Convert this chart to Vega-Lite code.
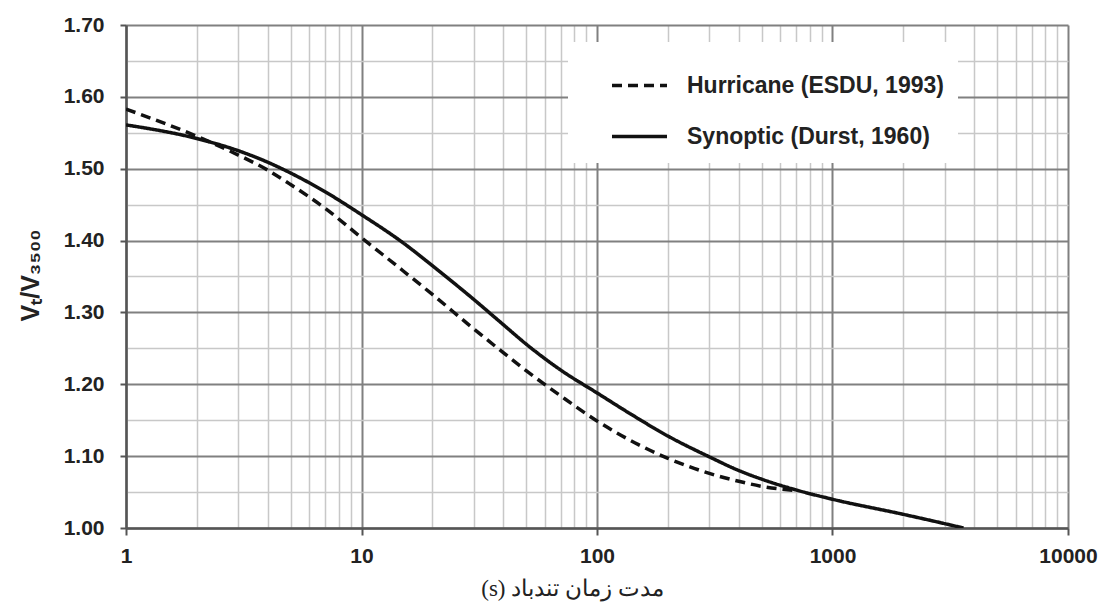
{
  "$schema": "https://vega.github.io/schema/vega-lite/v6.json",
  "width": 942,
  "height": 503,
  "autosize": "none",
  "padding": {"left": 126, "top": 25, "right": 38, "bottom": 76},
  "background": "white",
  "config": {"view": {"stroke": null}},
  "data": {
    "values": [
      {"series": "Hurricane (ESDU, 1993)", "t": 1, "v": 1.583},
      {"series": "Hurricane (ESDU, 1993)", "t": 2, "v": 1.545},
      {"series": "Hurricane (ESDU, 1993)", "t": 3, "v": 1.519},
      {"series": "Hurricane (ESDU, 1993)", "t": 4, "v": 1.498},
      {"series": "Hurricane (ESDU, 1993)", "t": 5, "v": 1.478},
      {"series": "Hurricane (ESDU, 1993)", "t": 7, "v": 1.445},
      {"series": "Hurricane (ESDU, 1993)", "t": 10, "v": 1.404},
      {"series": "Hurricane (ESDU, 1993)", "t": 15, "v": 1.358},
      {"series": "Hurricane (ESDU, 1993)", "t": 20, "v": 1.325},
      {"series": "Hurricane (ESDU, 1993)", "t": 30, "v": 1.277},
      {"series": "Hurricane (ESDU, 1993)", "t": 40, "v": 1.244},
      {"series": "Hurricane (ESDU, 1993)", "t": 50, "v": 1.219},
      {"series": "Hurricane (ESDU, 1993)", "t": 70, "v": 1.184},
      {"series": "Hurricane (ESDU, 1993)", "t": 100, "v": 1.149},
      {"series": "Hurricane (ESDU, 1993)", "t": 150, "v": 1.116},
      {"series": "Hurricane (ESDU, 1993)", "t": 200, "v": 1.097},
      {"series": "Hurricane (ESDU, 1993)", "t": 300, "v": 1.076},
      {"series": "Hurricane (ESDU, 1993)", "t": 400, "v": 1.065},
      {"series": "Hurricane (ESDU, 1993)", "t": 500, "v": 1.058},
      {"series": "Hurricane (ESDU, 1993)", "t": 700, "v": 1.052},
      {"series": "Synoptic (Durst, 1960)", "t": 1, "v": 1.561},
      {"series": "Synoptic (Durst, 1960)", "t": 2, "v": 1.542},
      {"series": "Synoptic (Durst, 1960)", "t": 3, "v": 1.525},
      {"series": "Synoptic (Durst, 1960)", "t": 4, "v": 1.509},
      {"series": "Synoptic (Durst, 1960)", "t": 5, "v": 1.494},
      {"series": "Synoptic (Durst, 1960)", "t": 7, "v": 1.468},
      {"series": "Synoptic (Durst, 1960)", "t": 10, "v": 1.436},
      {"series": "Synoptic (Durst, 1960)", "t": 15, "v": 1.397},
      {"series": "Synoptic (Durst, 1960)", "t": 20, "v": 1.365},
      {"series": "Synoptic (Durst, 1960)", "t": 30, "v": 1.318},
      {"series": "Synoptic (Durst, 1960)", "t": 40, "v": 1.283},
      {"series": "Synoptic (Durst, 1960)", "t": 50, "v": 1.256},
      {"series": "Synoptic (Durst, 1960)", "t": 70, "v": 1.220},
      {"series": "Synoptic (Durst, 1960)", "t": 100, "v": 1.188},
      {"series": "Synoptic (Durst, 1960)", "t": 140, "v": 1.158},
      {"series": "Synoptic (Durst, 1960)", "t": 200, "v": 1.128},
      {"series": "Synoptic (Durst, 1960)", "t": 300, "v": 1.099},
      {"series": "Synoptic (Durst, 1960)", "t": 400, "v": 1.080},
      {"series": "Synoptic (Durst, 1960)", "t": 500, "v": 1.068},
      {"series": "Synoptic (Durst, 1960)", "t": 700, "v": 1.053},
      {"series": "Synoptic (Durst, 1960)", "t": 1000, "v": 1.040},
      {"series": "Synoptic (Durst, 1960)", "t": 2000, "v": 1.019},
      {"series": "Synoptic (Durst, 1960)", "t": 3000, "v": 1.006},
      {"series": "Synoptic (Durst, 1960)", "t": 3600, "v": 1.0}
    ]
  },
  "mark": {"type": "line", "color": "#111111", "strokeWidth": 3.5, "interpolate": "monotone", "clip": true},
  "encoding": {
    "x": {
      "field": "t",
      "type": "quantitative",
      "scale": {"type": "log", "domain": [1, 10000], "nice": false},
      "axis": {
        "values": [1,2,3,4,5,6,7,8,9,10,20,30,40,50,60,70,80,90,100,200,300,400,500,600,700,800,900,1000,2000,3000,4000,5000,6000,7000,8000,9000,10000],
        "labelExpr": "indexof([1,10,100,1000,10000], datum.value) >= 0 ? format(datum.value, 'd') : ''",
        "grid": true,
        "gridColor": {"condition": {"test": "indexof([1,10,100,1000,10000], datum.value) >= 0", "value": "#808080"}, "value": "#c8c8c8"},
        "gridWidth": {"condition": {"test": "indexof([1,10,100,1000,10000], datum.value) >= 0", "value": 2}, "value": 1.5},
        "tickOpacity": {"condition": {"test": "indexof([1,10,100,1000,10000], datum.value) >= 0", "value": 1}, "value": 0},
        "tickColor": "#555555",
        "tickWidth": 2,
        "tickSize": 7,
        "domainColor": "#555555",
        "domainWidth": 2.5,
        "labelFont": "Liberation Sans",
        "labelFontWeight": "bold",
        "labelFontSize": 21,
        "labelColor": "#222222",
        "labelPadding": 10,
        "labelFlush": false,
        "labelOverlap": false,
        "title": "‫مدت زمان تندباد (s)‬",
        "titleFont": "Liberation Serif",
        "titleFontWeight": "normal",
        "titleFontSize": 23,
        "titleColor": "#222222",
        "titleX": 446,
        "titleY": 60,
        "titleAlign": "center",
        "titleBaseline": "middle"
      }
    },
    "y": {
      "field": "v",
      "type": "quantitative",
      "scale": {"domain": [1.0, 1.7], "nice": false, "zero": false},
      "axis": {
        "values": [1.0,1.05,1.1,1.15,1.2,1.25,1.3,1.35,1.4,1.45,1.5,1.55,1.6,1.65,1.7],
        "labelExpr": "round(datum.value*100) % 10 == 0 ? format(datum.value, '.2f') : ''",
        "grid": true,
        "gridColor": {"condition": {"test": "round(datum.value*100) % 10 == 0", "value": "#808080"}, "value": "#c8c8c8"},
        "gridWidth": {"condition": {"test": "round(datum.value*100) % 10 == 0", "value": 2}, "value": 1.5},
        "tickOpacity": {"condition": {"test": "round(datum.value*100) % 10 == 0", "value": 1}, "value": 0},
        "tickColor": "#555555",
        "tickWidth": 2,
        "tickSize": 6,
        "domainColor": "#555555",
        "domainWidth": 2.5,
        "labelFont": "Liberation Sans",
        "labelFontWeight": "bold",
        "labelFontSize": 21,
        "labelColor": "#222222",
        "labelPadding": 16,
        "labelOverlap": false,
        "title": "Vₜ/V₃₅₀₀",
        "titleFont": "Liberation Sans",
        "titleFontWeight": "bold",
        "titleFontSize": 25,
        "titleColor": "#222222",
        "titleAngle": -90,
        "titleX": -96,
        "titleY": 250,
        "titleAlign": "center",
        "titleBaseline": "middle"
      }
    },
    "strokeDash": {
      "field": "series",
      "type": "nominal",
      "scale": {"domain": ["Hurricane (ESDU, 1993)", "Synoptic (Durst, 1960)"], "range": [[10, 6], [1, 0]]},
      "legend": {
        "orient": "none",
        "legendX": 442,
        "legendY": 17,
        "title": null,
        "fillColor": "white",
        "padding": 14,
        "symbolOffset": 28,
        "rowPadding": 9,
        "symbolType": "stroke",
        "symbolSize": 3025,
        "symbolStrokeWidth": 3.5,
        "symbolStrokeColor": "#111111",
        "labelFont": "Liberation Sans",
        "labelFontWeight": "bold",
        "labelFontSize": 23,
        "labelColor": "#222222",
        "labelOffset": 18,
        "labelLimit": 400
      }
    }
  }
}
